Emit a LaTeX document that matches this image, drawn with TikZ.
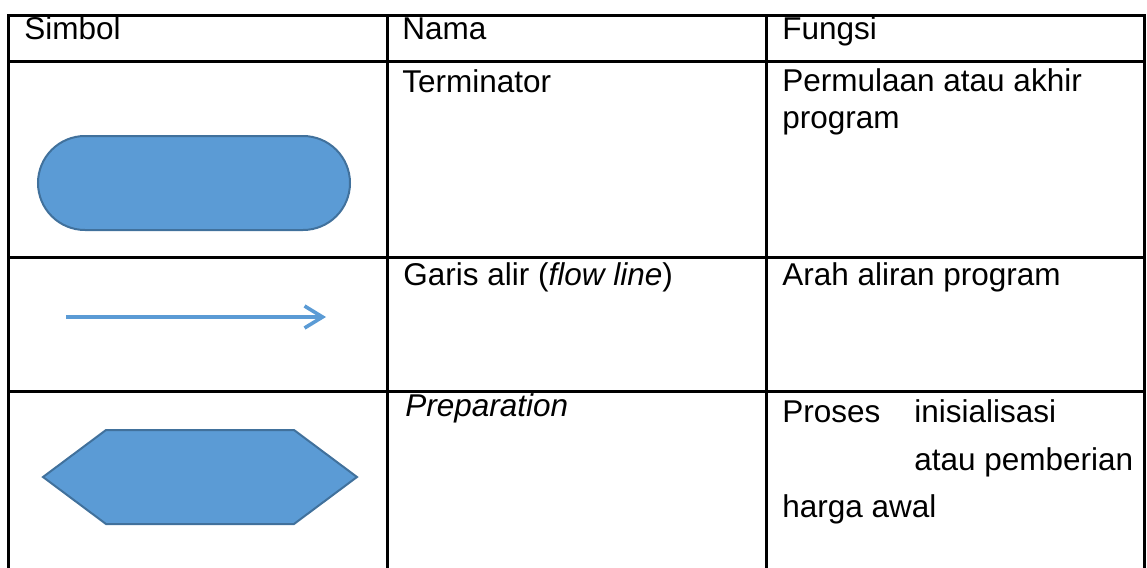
\documentclass[tikz,border=0pt]{standalone}
\usepackage{fontspec}
\setmainfont{Liberation Sans}
\usetikzlibrary{arrows.meta}
\definecolor{symfill}{HTML}{5B9BD5}
\definecolor{symline}{HTML}{41719C}
\tikzset{
         gridline/.style={line width=1.5pt,draw=black},
         cell/.style={anchor=base west,inner sep=0pt,font=\fontsize{15.75}{18.5}\selectfont},
         symshape/.style={fill=symfill,draw=symline,line width=1pt},
         flowarrow/.style={draw=symfill,line width=1.8pt,-{Straight Barb[length=9pt,width=11pt]}}
        }
\begin{document}
\begin{tikzpicture}[x=0.5pt,y=-0.5pt]
\useasboundingbox (0,0) rectangle (1147,568);
\draw[gridline](8,15)--(1144,15)(8,61)--(1144,61)(8,257)--(1144,257)(8,391)--(1144,391); % rows
\draw[gridline](8,14)--(8,570)(387,14)--(387,570)(766,14)--(766,570)(1144,14)--(1144,570); % columns
\node[cell] (simbolhead) at (24,39) {Simbol}; % header
\node[cell] (namahead) at (402,39) {Nama}; % header
\node[cell] (fungsihead) at (782,39) {Fungsi}; % header
\draw[symshape,rounded corners=23.5pt] (38,136) rectangle (350,230); % terminator
\node[cell] (termname) at (402,92) {Terminator}; % name
\node[cell] (termfunc) at (782,91) {Permulaan atau akhir}; % function
\node[cell] (termfuncb) at (782,128) {program};
\coordinate (flowstart) at (66,317);
\coordinate (flowend) at (326,317);
\draw[flowarrow] (flowstart) -- (flowend); % flow line
\node[cell] (flowname) at (403,285) {Garis alir (\textit{flow line})}; % name
\node[cell] (flowfunc) at (782,285) {Arah aliran program}; % function
\draw[symshape] (43,477)--(106,430)--(294,430)--(357,477)--(294,524)--(106,524)--cycle; % preparation
\node[cell] (prepname) at (405,416) {\textit{Preparation}}; % name
\node[cell] (prepfunca) at (782,422) {Proses}; % function
\node[cell] (prepfuncb) at (914,422) {inisialisasi};
\node[cell] (prepfuncc) at (914,470) {atau pemberian};
\node[cell] (prepfuncd) at (782,517) {harga awal};
\end{tikzpicture}
\end{document}
